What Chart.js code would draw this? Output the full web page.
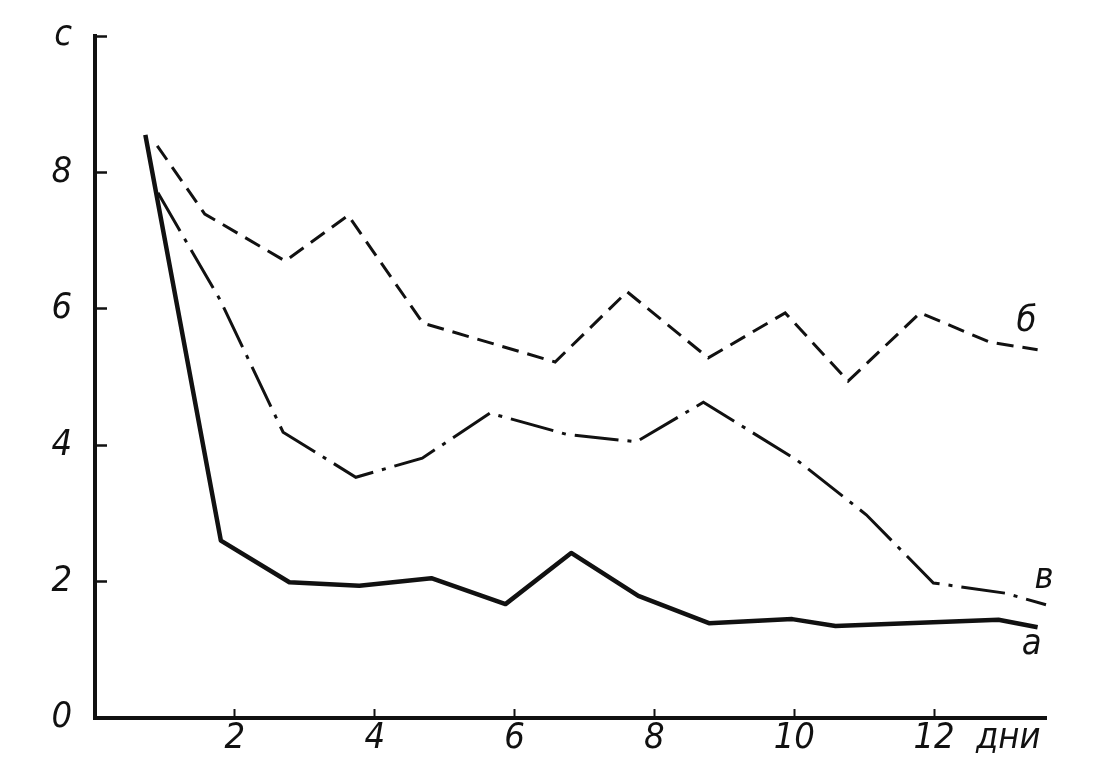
<!DOCTYPE html>
<html>
<head>
<meta charset="utf-8">
<script src="https://cdn.jsdelivr.net/npm/chart.js@4/dist/chart.umd.min.js"></script>
<style>
  html, body { margin: 0; padding: 0; background: #fff; }
  #wrap { width: 1112px; height: 768px; }
</style>
</head>
<body>
<div id="wrap"><canvas id="chart" width="1112" height="768"></canvas></div>
<script>
// кривая а (сплошная)
const daysA = [0.72, 1.8, 2.78, 3.78, 4.81, 5.87, 6.81, 7.77, 8.78, 9.97, 10.59, 12.92, 13.48];
const valuesA = [8.55, 2.6, 1.99, 1.94, 2.05, 1.67, 2.42, 1.79, 1.39, 1.45, 1.35, 1.44, 1.33];

// кривая б (штриховая)
const daysB = [0.89, 1.57, 2.72, 3.62, 4.69, 6.58, 7.61, 8.77, 9.87, 10.77, 11.8, 12.8, 13.48];
const valuesB = [8.39, 7.39, 6.7, 7.37, 5.79, 5.22, 6.25, 5.28, 5.94, 4.94, 5.94, 5.51, 5.4];

// кривая в (штрихпунктир)
const daysV = [0.9, 1.79, 2.69, 3.73, 4.68, 5.65, 6.74, 7.74, 8.7, 10.04, 11.03, 11.99, 13.02, 13.6];
const valuesV = [7.7, 6.13, 4.19, 3.53, 3.81, 4.47, 4.16, 4.05, 4.63, 3.78, 2.98, 1.98, 1.83, 1.66];

const curveNames = ["а", "б", "в"];
const xTicks = [2, 4, 6, 8, 10, 12];
const xUnitLabel = "дни";
const yUnitLabel = "c";

const INK = "#111";
const FONT = "'Liberation Sans Narrow', 'DejaVu Sans Condensed', 'Liberation Sans', sans-serif";

function toPoints(days, values) {
  return days.map((d, i) => ({ x: d, y: values[i] }));
}

// подписи кривых у правого края
const curveLabels = {
  id: "curveLabels",
  afterDatasetsDraw(chart) {
    const ctx = chart.ctx;
    const offsets = [[-6, 17], [-11, -28], [-2, -26]];
    ctx.save();
    ctx.fillStyle = INK;
    ctx.font = "italic 36px " + FONT;
    ctx.textAlign = "center";
    ctx.textBaseline = "middle";
    chart.data.datasets.forEach((ds, i) => {
      const pts = chart.getDatasetMeta(i).data;
      const last = pts[pts.length - 1];
      ctx.fillText(curveNames[i], last.x + offsets[i][0], last.y + offsets[i][1]);
    });
    ctx.restore();
  },
};

const tickFont = { family: FONT, size: 36, style: "italic" };

new Chart(document.getElementById("chart"), {
  type: "line",
  data: {
    datasets: [
      {
        label: curveNames[0],
        data: toPoints(daysA, valuesA),
        borderColor: INK,
        borderWidth: 4.5,
        borderJoinStyle: "round",
      },
      {
        label: curveNames[1],
        data: toPoints(daysB, valuesB),
        borderColor: INK,
        borderWidth: 3,
        borderDash: [17, 9],
      },
      {
        label: curveNames[2],
        data: toPoints(daysV, valuesV),
        borderColor: INK,
        borderWidth: 3,
        borderDash: [44, 9, 4, 9],
      },
    ],
  },
  options: {
    responsive: false,
    animation: false,
    clip: false,
    elements: { point: { radius: 0 }, line: { tension: 0, borderCapStyle: "butt" } },
    layout: { padding: { top: 36, right: 66, left: 0, bottom: 0 } },
    plugins: { legend: { display: false }, tooltip: { enabled: false } },
    scales: {
      x: {
        type: "linear",
        min: 0,
        max: 13.6,
        afterFit: (s) => {
          s.height = 50;
          s.paddingLeft = 0;
          s.paddingRight = 0;
          s.paddingTop = 0;
          s.paddingBottom = 0;
        },
        afterBuildTicks: (s) => {
          s.ticks = xTicks.map((v) => ({ value: v })).concat([{ value: 13.06 }]);
        },
        border: { display: true, color: INK, width: 4 },
        grid: {
          drawOnChartArea: false,
          drawTicks: true,
          tickLength: -9,
          tickWidth: 2,
          tickColor: (c) => (c.tick && c.tick.value > 12.5 ? "rgba(0,0,0,0)" : INK),
        },
        ticks: {
          autoSkip: false,
          maxRotation: 0,
          padding: 8,
          color: INK,
          font: tickFont,
          callback: (v) => (v > 12.5 ? xUnitLabel : v),
        },
      },
      y: {
        min: 0,
        max: 10,
        afterFit: (s) => {
          s.width = 95;
          s.paddingTop = 0;
          s.paddingBottom = 0;
          s.paddingLeft = 0;
          s.paddingRight = 0;
        },
        border: { display: true, color: INK, width: 4 },
        grid: {
          drawOnChartArea: false,
          drawTicks: true,
          tickLength: -12,
          tickWidth: 2.5,
          tickColor: INK,
        },
        ticks: {
          stepSize: 2,
          padding: 35,
          color: INK,
          font: tickFont,
          callback: (v) => (v === 10 ? yUnitLabel : v),
        },
      },
    },
  },
  plugins: [curveLabels],
});
</script>
</body>
</html>
